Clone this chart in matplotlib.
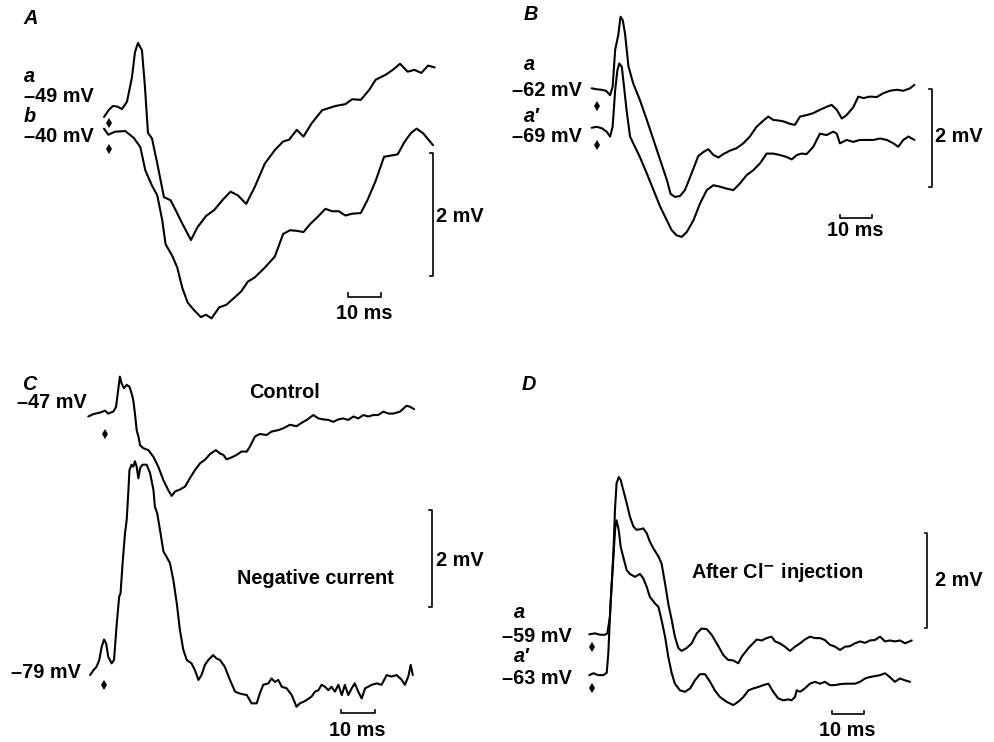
import numpy as np
import matplotlib
matplotlib.use("Agg")
import matplotlib.pyplot as plt

plt.rcParams['font.family'] = ['Liberation Sans', 'DejaVu Sans']

# ---- traces: time (ms from start of sweep) and voltage (mV, relative to baseline)
# panel A
A_a_t = [0, 1.5, 2.7, 4.0, 5.4, 6.9, 8.4, 9.3, 10.2, 11.4, 12.3, 13.2, 14.4, 16.0, 18.0, 20.0, 21.5,
         23.5, 26.1, 28.1, 30.6, 33.1, 35.7, 38.0, 40.2, 42.7, 45.3, 48.3, 51.3, 53.8, 55.6, 57.9,
         59.9, 62.4, 65.5, 69.5, 72.5, 74.5, 77.1, 79.6, 81.6, 84.6, 86.7, 88.9, 91.2, 93.2, 95.3,
         97.3, 99.3]
A_a_v = [0, 0.12, 0.18, 0.17, 0.13, 0.25, 0.65, 1.06, 1.21, 1.09, 0.49, -0.26, -0.35, -0.76, -1.31,
         -1.36, -1.52, -1.74, -2.01, -1.80, -1.62, -1.52, -1.35, -1.22, -1.28, -1.42, -1.14, -0.76,
         -0.54, -0.40, -0.37, -0.21, -0.32, -0.10, 0.11, 0.18, 0.21, 0.29, 0.28, 0.44, 0.61, 0.69,
         0.77, 0.87, 0.74, 0.77, 0.72, 0.84, 0.81]
A_b_t = [0, 1.3, 3.3, 6.4, 8.9, 10.9, 12.4, 14.4, 16.0, 17.5, 18.5, 20.5, 22.0, 23.5, 25.1, 27.1,
         29.1, 30.6, 32.3, 34.6, 36.7, 39.2, 41.2, 43.2, 45.3, 48.3, 51.3, 53.8, 55.9, 57.9, 59.9,
         61.9, 64.2, 66.5, 68.5, 70.5, 72.5, 74.5, 77.1, 79.1, 81.6, 84.1, 86.2, 88.2, 90.2, 92.2,
         93.9, 95.9, 98.8]
A_b_v = [0, -0.10, -0.05, -0.04, -0.15, -0.30, -0.68, -0.93, -1.09, -1.50, -1.89, -2.08, -2.27,
         -2.60, -2.84, -2.97, -3.08, -3.04, -3.10, -2.92, -2.88, -2.76, -2.66, -2.50, -2.43, -2.27,
         -2.09, -1.72, -1.66, -1.67, -1.69, -1.56, -1.44, -1.31, -1.35, -1.35, -1.42, -1.39, -1.38,
         -1.17, -0.85, -0.46, -0.44, -0.42, -0.22, -0.07, 0, -0.08, -0.27]

# panel B
B_a_t = [0, 1.6, 3.2, 4.5, 5.8, 6.6, 7.4, 8.4, 9.1, 9.8, 10.5, 11.6, 13.1, 15.2, 17.4, 19.5, 21.6,
         23.7, 24.9, 26.3, 27.9, 29.4, 31.5, 33.6, 35.4, 36.8, 38.4, 40.0, 41.5, 43.6, 45.7, 47.8,
         49.9, 52.0, 54.2, 55.7, 57.3, 58.9, 60.5, 62.6, 64.1, 65.7, 67.8, 69.9, 72.0, 74.1, 75.7,
         77.3, 78.9, 80.4, 82.5, 84.1, 85.7, 87.8, 89.9, 92.0, 94.1, 96.2, 98.3, 100.4, 101.8]
B_a_v = [0.02, 0, -0.01, -0.03, -0.12, 0.05, 0.81, 1.12, 1.49, 1.42, 1.15, 0.47, 0.12, -0.22, -0.63,
         -1.04, -1.45, -1.86, -2.15, -2.21, -2.19, -2.07, -1.73, -1.37, -1.28, -1.23, -1.35, -1.40,
         -1.33, -1.26, -1.21, -1.11, -0.97, -0.77, -0.64, -0.56, -0.63, -0.64, -0.66, -0.71, -0.73,
         -0.56, -0.53, -0.49, -0.42, -0.36, -0.32, -0.42, -0.60, -0.53, -0.37, -0.15, -0.18, -0.15,
         -0.16, -0.08, -0.03, -0.01, -0.03, 0.02, 0.09]
B_b_t = [0, 1.6, 3.2, 4.7, 5.8, 6.6, 7.4, 8.1, 8.7, 9.5, 10.2, 11.0, 12.1, 13.1, 15.2, 17.4, 19.5,
         21.6, 23.7, 25.2, 26.8, 28.4, 30.0, 32.1, 34.2, 36.3, 38.4, 40.5, 42.6, 44.7, 46.8, 48.9,
         51.0, 53.1, 55.2, 57.3, 59.4, 61.5, 63.1, 64.7, 66.2, 67.8, 69.9, 72.0, 74.1, 76.2, 77.3,
         78.3, 80.4, 82.5, 84.6, 86.8, 88.9, 91.0, 93.1, 95.2, 96.7, 98.3, 99.9, 101.8]
B_b_v = [0, 0.02, -0.01, -0.08, -0.18, 0.02, 0.77, 1.18, 1.32, 1.25, 0.84, 0.36, -0.18, -0.32,
         -0.60, -0.94, -1.28, -1.62, -1.90, -2.10, -2.21, -2.24, -2.14, -1.90, -1.55, -1.28, -1.18,
         -1.21, -1.25, -1.28, -1.14, -0.97, -0.87, -0.73, -0.53, -0.53, -0.56, -0.60, -0.65, -0.56,
         -0.53, -0.54, -0.39, -0.12, -0.15, -0.08, -0.12, -0.32, -0.25, -0.29, -0.25, -0.25, -0.25,
         -0.22, -0.25, -0.32, -0.39, -0.25, -0.18, -0.25]

# panel C
C_ctl_t = [0, 1.5, 3.4, 4.9, 5.8, 7.3, 8.1, 8.7, 9.2, 9.7, 10.4, 11.2, 12.0, 12.6, 13.1, 13.6, 14.1,
           14.6, 15.1, 16.0, 17.5, 19.0, 20.4, 21.9, 23.3, 24.3, 25.3, 26.7, 28.2, 29.6, 31.1, 32.6,
           34.0, 35.5, 37.2, 38.4, 39.4, 40.3, 41.8, 43.2, 44.7, 46.2, 47.1, 48.6, 50.0, 52.0, 53.4,
           55.4, 56.9, 58.8, 60.7, 62.2, 63.7, 65.6, 67.1, 68.5, 70.0, 71.4, 72.9, 74.3, 75.8, 77.3,
           78.7, 80.2, 81.6, 83.1, 84.5, 86.0, 87.5, 88.9, 90.9, 92.8, 93.8, 95.0]
C_ctl_v = [-0.01, 0.04, 0.07, 0.11, 0.05, 0.09, 0.19, 0.53, 0.81, 0.67, 0.57, 0.64, 0.60, 0.47, 0.33,
           0.05, -0.29, -0.42, -0.60, -0.66, -0.70, -0.84, -1.04, -1.32, -1.52, -1.64, -1.55, -1.51,
           -1.45, -1.28, -1.11, -0.97, -0.90, -0.78, -0.70, -0.77, -0.80, -0.89, -0.85, -0.80, -0.73,
           -0.73, -0.63, -0.42, -0.37, -0.39, -0.32, -0.29, -0.25, -0.18, -0.21, -0.14, -0.08, 0.02,
           -0.05, -0.07, -0.08, -0.12, -0.07, -0.05, -0.08, -0.01, -0.05, 0.02, -0.01, 0.02, 0.02,
           0.09, 0.05, 0.05, 0.09, 0.21, 0.19, 0.14]
C_neg_t = [0.5, 1.5, 2.4, 3.2, 3.9, 4.6, 5.2, 5.8, 6.8, 7.5, 8.3, 9.0, 9.4, 10.0, 10.7, 11.2, 11.7,
           12.0, 12.6, 13.1, 13.6, 14.1, 14.6, 15.1, 15.8, 17.0, 18.0, 19.0, 19.4, 20.1, 20.9, 21.9,
           22.8, 23.8, 24.8, 25.8, 26.7, 27.7, 28.7, 30.1, 31.1, 32.1, 33.0, 34.0, 35.0, 36.4, 37.4,
           38.4, 39.8, 41.3, 42.8, 44.2, 46.2, 47.6, 49.1, 50.0, 51.0, 52.5, 53.4, 54.4, 55.4, 56.4,
           57.8, 59.3, 60.7, 61.7, 62.7, 63.7, 65.1, 66.1, 67.1, 68.0, 69.0, 70.0, 70.9, 71.9, 72.9,
           73.9, 74.8, 75.8, 76.8, 77.7, 78.7, 79.7, 80.7, 81.6, 82.6, 84.1, 85.5, 87.0, 88.4, 89.9,
           91.4, 92.3, 93.3, 94.0, 94.6]
C_neg_v = [-0.07, 0.03, 0.10, 0.24, 0.51, 0.66, 0.58, 0.31, 0.17, 0.24, 0.99, 1.54, 1.61, 2.23, 2.84,
           3.12, 3.73, 4.14, 4.25, 4.21, 4.32, 4.21, 3.97, 4.18, 4.25, 4.25, 4.08, 3.73, 3.39, 3.25,
           2.91, 2.47, 2.36, 2.23, 1.88, 1.40, 0.86, 0.45, 0.24, 0.17, 0.03, -0.17, -0.07, 0.14, 0.24,
           0.34, 0.27, 0.24, 0.10, -0.17, -0.41, -0.45, -0.48, -0.65, -0.65, -0.45, -0.27, -0.24,
           -0.14, -0.21, -0.17, -0.31, -0.34, -0.48, -0.72, -0.65, -0.62, -0.58, -0.51, -0.41, -0.38,
           -0.27, -0.31, -0.38, -0.31, -0.41, -0.27, -0.48, -0.27, -0.48, -0.34, -0.24, -0.41, -0.55,
           -0.34, -0.31, -0.27, -0.24, -0.27, -0.07, -0.10, -0.07, -0.17, -0.27, -0.10, 0.14, -0.07]

# panel D
D_a_t = [0, 1.8, 3.4, 4.9, 5.7, 6.5, 7.6, 8.1, 8.6, 9.3, 9.9, 10.7, 11.8, 12.8, 13.9, 14.9, 16.0,
         17.0, 18.1, 19.1, 20.2, 21.8, 22.8, 23.9, 24.9, 26.0, 27.0, 28.1, 29.1, 30.7, 32.3, 33.9,
         35.4, 37.0, 38.6, 40.2, 42.3, 43.8, 45.4, 47.0, 48.1, 50.2, 52.8, 54.4, 55.9, 57.5, 58.6,
         60.1, 61.7, 63.3, 64.9, 66.5, 68.0, 69.6, 71.2, 72.8, 74.3, 75.9, 77.5, 79.1, 80.7, 82.2,
         83.8, 85.4, 87.0, 88.5, 90.1, 91.7, 93.3, 94.8, 96.4, 98.0, 99.6, 101.7]
D_a_v = [0, 0.02, -0.01, -0.01, 0.02, 0.37, 1.71, 2.62, 3.18, 3.31, 3.25, 3.04, 2.76, 2.48, 2.27,
         2.20, 2.21, 2.23, 2.13, 1.95, 1.81, 1.64, 1.49, 1.07, 0.65, 0.30, -0.05, -0.29, -0.35, -0.29,
         -0.19, 0.02, 0.12, 0.11, -0.01, -0.19, -0.44, -0.54, -0.55, -0.61, -0.47, -0.29, -0.11,
         -0.13, -0.08, -0.05, -0.15, -0.19, -0.26, -0.35, -0.26, -0.19, -0.11, -0.05, -0.08, -0.08,
         -0.12, -0.22, -0.26, -0.33, -0.26, -0.25, -0.19, -0.15, -0.18, -0.13, -0.12, -0.05, -0.15,
         -0.13, -0.15, -0.13, -0.19, -0.13]
D_b_t = [0, 1.3, 2.8, 4.4, 5.5, 6.0, 6.7, 7.6, 8.2, 8.6, 9.3, 9.9, 10.7, 11.8, 12.8, 14.4, 16.0,
         17.0, 18.1, 19.1, 20.7, 21.8, 22.8, 23.9, 24.9, 26.0, 27.0, 28.6, 30.2, 31.8, 33.3, 34.9,
         36.5, 38.1, 39.6, 41.2, 43.3, 45.4, 47.0, 48.6, 50.2, 51.7, 53.3, 54.9, 56.5, 58.0, 59.6,
         61.2, 62.8, 63.8, 64.9, 65.4, 66.5, 68.0, 69.6, 71.2, 72.8, 74.3, 75.9, 77.5, 79.1, 80.7,
         82.2, 83.8, 85.4, 87.0, 88.5, 90.1, 91.7, 93.3, 94.8, 96.4, 98.0, 99.6, 101.2]
D_b_v = [0, 0.04, 0, 0, 0.05, 0.46, 1.51, 2.49, 3.12, 3.26, 3.05, 2.70, 2.49, 2.21, 2.13, 2.07, 2.13,
         2.04, 1.86, 1.65, 1.51, 1.44, 1.16, 0.81, 0.39, 0.04, -0.18, -0.32, -0.35, -0.28, -0.11,
         0.02, 0.02, -0.14, -0.32, -0.46, -0.56, -0.63, -0.56, -0.46, -0.32, -0.28, -0.25, -0.21,
         -0.18, -0.35, -0.49, -0.53, -0.51, -0.53, -0.46, -0.32, -0.35, -0.28, -0.18, -0.14, -0.18,
         -0.14, -0.21, -0.21, -0.19, -0.18, -0.18, -0.18, -0.14, -0.07, -0.04, -0.02, 0, 0.04, -0.04,
         -0.14, -0.07, -0.11, -0.14]

W, H = 995, 742
fig = plt.figure(figsize=(W / 100, H / 100), dpi=100)
LW = 1.5
FS = 14.3


def panel(x0, y0, px_ms, px_mv):
    # full-figure axes whose data origin sits at pixel (x0, y0)
    ax = fig.add_axes([0, 0, 1, 1])
    ax.set_xlim(-x0 / px_ms, (W - x0) / px_ms)
    ax.set_ylim(-(H - y0) / px_mv, y0 / px_mv)
    ax.axis('off')
    ax.patch.set_alpha(0)
    return ax


def trace(ax, t, v, off=0.0):
    ax.plot(t, np.asarray(v) + off, color='black', lw=LW,
            solid_joinstyle='round', solid_capstyle='round')


def stim(ax, t, v):
    ax.plot([t], [v], marker='d', ms=5, color='black', mew=0)


def vbar(ax, t, v_top):
    ax.plot([t - 0.8, t, t, t - 0.8], [v_top, v_top, v_top - 2, v_top - 2], color='black', lw=1.2)


def hbar(ax, t, v, up):
    ax.plot([t, t, t + 10, t + 10], [v + up, v, v, v + up], color='black', lw=1.2)


def txt(x, y, s, ha='left', style='normal'):
    fig.text(x / W, 1 - y / H, s, ha=ha, va='center', fontsize=FS, fontweight='bold', style=style)


# ---- A
ax = panel(104, 117, 3.33, 61.2)
trace(ax, A_a_t, A_a_v)
trace(ax, A_b_t, A_b_v, -0.19)
stim(ax, 1.5, -0.10)
stim(ax, 1.5, -0.52)
vbar(ax, 98.7, -0.59)
hbar(ax, 73.2, -2.94, 0.06)
txt(23, 18, 'A', style='italic')
txt(24, 77, 'a', style='italic')
txt(24, 97, '\u201349 mV')
txt(24, 117, 'b', style='italic')
txt(24, 137, '\u201340 mV')
txt(436, 217, '2 mV')
txt(364, 313, '10 ms', ha='center')

# ---- B
ax = panel(591.7, 89.3, 3.17, 48.7)
trace(ax, B_a_t, B_a_v)
trace(ax, B_b_t, B_b_v, -0.79)
stim(ax, 1.6, -0.35)
stim(ax, 1.6, -1.15)
vbar(ax, 107.3, 0.0)
hbar(ax, 78.3, -2.65, 0.07)
txt(524, 15, 'B', style='italic')
txt(524, 65, 'a', style='italic')
txt(582, 90, '\u201362 mV', ha='right')
txt(524, 117, 'a\u2032', style='italic')
txt(582, 137, '\u201369 mV', ha='right')
txt(935, 137, '2 mV')
txt(855, 230, '10 ms', ha='center')

# ---- C
ax = panel(88.3, 416, 3.43, 48.7)
trace(ax, C_ctl_t, C_ctl_v)
trace(ax, C_neg_t, C_neg_v, -5.25)
stim(ax, 4.9, -0.36)
stim(ax, 4.7, -5.52)
vbar(ax, 100.2, -1.92)
hbar(ax, 73.6, -6.1, 0.07)
txt(22, 385, 'C', style='italic')
txt(87, 403, '\u201347 mV', ha='right')
txt(285, 393, 'Control', ha='center')
txt(315, 579, 'Negative current', ha='center')
txt(436, 560, '2 mV')
txt(81, 672, '\u201379 mV', ha='right')
txt(357, 730, '10 ms', ha='center')

# ---- D
ax = panel(589.3, 634.3, 3.17, 47.5)
trace(ax, D_a_t, D_a_v)
trace(ax, D_b_t, D_b_v, -0.86)
stim(ax, 0.8, -0.26)
stim(ax, 0.8, -1.14)
vbar(ax, 106.6, 2.13)
hbar(ax, 76.5, -1.68, 0.07)
txt(522, 385, 'D', style='italic')
txt(777, 573, 'After Cl$^{\\mathbf{-}}$ injection', ha='center')
txt(935, 580, '2 mV')
txt(514, 613, 'a', style='italic')
txt(572, 636, '\u201359 mV', ha='right')
txt(514, 657, 'a\u2032', style='italic')
txt(572, 678, '\u201363 mV', ha='right')
txt(847, 730, '10 ms', ha='center')

fig.savefig('out.png', dpi=100, facecolor='white')
